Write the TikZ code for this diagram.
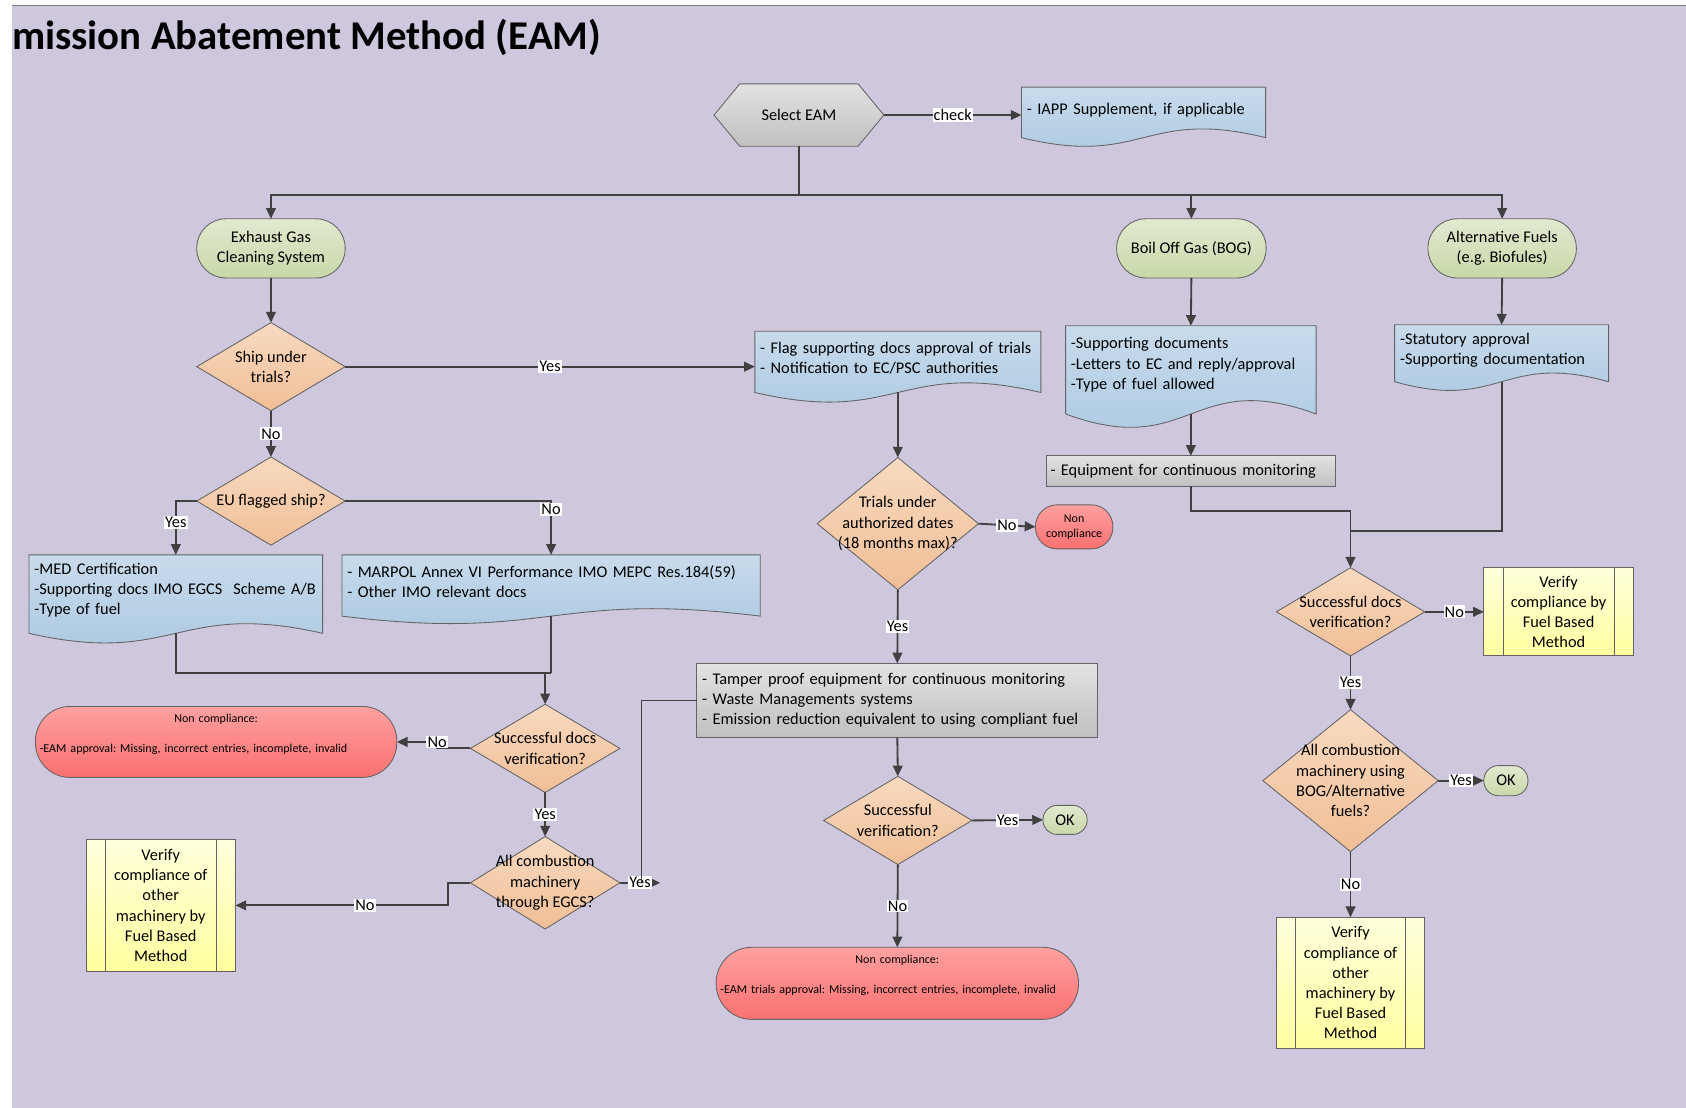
\documentclass[tikz,border=0pt]{standalone}
\usepackage{fontspec}
\setmainfont{Carlito}
\usetikzlibrary{arrows.meta,calc}
\definecolor{bgc}{RGB}{207,199,221}
\definecolor{lnc}{RGB}{64,64,64}
\definecolor{olc}{RGB}{100,100,100}
\definecolor{doct}{RGB}{200,219,236}
\definecolor{docb}{RGB}{168,199,224}
\definecolor{grt}{RGB}{226,226,226}
\definecolor{grb}{RGB}{192,192,192}
\definecolor{gnt}{RGB}{226,233,208}
\definecolor{gnb}{RGB}{200,216,168}
\definecolor{ort}{RGB}{248,218,192}
\definecolor{orb}{RGB}{240,190,150}
\definecolor{rdt}{RGB}{255,160,160}
\definecolor{rdb}{RGB}{250,112,112}
\definecolor{ylt}{RGB}{255,255,220}
\definecolor{ylb}{RGB}{255,255,160}
\pgfdeclarelayer{bg}
\pgfsetlayers{bg,main}
\frenchspacing
\newcommand\lowstr[1]{\rule[-#1]{0pt}{#1}}
\newcommand\mainsz{\fontsize{15.2}{18.8}\selectfont}
\newcommand\smallsz{\fontsize{11.2}{14}\selectfont}
\tikzset{
 base/.style={font=\mainsz, inner sep=0pt, outer sep=0pt},
 docnode/.style={base, rectangle, align=left, inner xsep=5pt},
 dia/.style={base, rectangle, align=center},
 term/.style={base, rectangle, draw=olc, line width=0.8pt, top color=gnt, bottom color=gnb, align=center},
 redterm/.style={term, top color=rdt, bottom color=rdb},
 graybox/.style={base, rectangle, draw=olc, line width=0.8pt, top color=grt, bottom color=grb, align=left, inner xsep=5pt},
 predef/.style={base, rectangle, draw=olc, line width=0.8pt, top color=ylt, bottom color=ylb, align=center},
 conn/.style={draw=lnc, line width=1.7pt, -{Triangle[length=10pt,width=9pt]}},
 plain/.style={draw=lnc, line width=1.7pt},
 lbl/.style={font=\mainsz, fill=white, inner sep=1pt, text=black},
 shapeol/.style={draw=olc, line width=0.8pt},
}
\begin{document}
\begin{tikzpicture}[x=1pt,y=-1pt]
\useasboundingbox (0,0) rectangle (1568,1030);
% ---------- nodes ----------
\node[anchor=base west, font=\fontsize{38}{44}\selectfont\bfseries, inner sep=0pt] (title) at (11,46) {mission Abatement Method (EAM)};
\node[dia, minimum width=158pt, minimum height=58pt] (sel) at (743,107) {Select EAM};
\node[docnode, minimum width=227pt, minimum height=47pt, text width=217pt] (iapp) at (1063.5,104.5) {- IAPP Supplement, if applicable\lowstr{7pt}};
\node[term, minimum width=138pt, minimum height=55pt, rounded corners=27pt] (egcs) at (252,231) {Exhaust Gas\\Cleaning System};
\node[term, minimum width=139pt, minimum height=55pt, rounded corners=27pt] (bogt) at (1108,231) {Boil Off Gas (BOG)};
\node[term, minimum width=138pt, minimum height=55pt, rounded corners=27pt] (aft) at (1397,231) {Alternative Fuels\\(e.g. Biofules)};
\node[dia, minimum width=138pt, minimum height=82pt] (ship) at (252,341) {Ship under\\trials?};
\node[docnode, minimum width=266pt, minimum height=57pt, text width=256pt] (flag) at (835,336.5) {- Flag supporting docs approval of trials\\- Notification to EC/PSC authorities\lowstr{8pt}};
\node[dia, minimum width=150pt, minimum height=123pt] (trial) at (835,487) {Trials under\\authorized dates\\(18 months max)?};
\node[redterm, font=\smallsz, minimum width=72pt, minimum height=41pt, rounded corners=20pt] (nc1) at (999,490) {Non\\compliance};
\node[graybox, minimum width=373pt, minimum height=69pt, text width=363pt] (tamper) at (834.5,651.5) {- Tamper proof equipment for continuous monitoring\\- Waste Managements systems\\- Emission reduction equivalent to using compliant fuel};
\node[dia, minimum width=138pt, minimum height=82pt] (sv) at (835,763) {Successful\\verification?};
\node[term, minimum width=41pt, minimum height=27pt, rounded corners=13pt] (ok1) at (990.5,762.5) {OK};
\node[redterm, font=\smallsz, minimum width=337pt, minimum height=67pt, rounded corners=33pt, text width=329pt, align=left, inner xsep=4pt] (nc2) at (834.5,914.5) {\null\hfill Non compliance:\hfill\null\\[14pt]-EAM trials approval: Missing, incorrect entries, incomplete, invalid\lowstr{17pt}};
\node[dia, minimum width=138pt, minimum height=82pt] (eu) at (252,466) {EU flagged ship?};
\node[docnode, minimum width=273pt, minimum height=73pt, text width=263pt] (med) at (163.5,552.5) {-MED Certification\\-Supporting docs IMO EGCS\ \ Scheme A/B\\-Type of fuel\lowstr{10pt}};
\node[docnode, minimum width=389pt, minimum height=57pt, text width=379pt] (marpol) at (512.5,544.5) {- MARPOL Annex VI Performance IMO MEPC Res.184(59)\\- Other IMO relevant docs\lowstr{7pt}};
\node[dia, minimum width=139pt, minimum height=82pt] (sdv1) at (507,696) {Successful docs\\verification?};
\node[redterm, font=\smallsz, minimum width=336pt, minimum height=66pt, rounded corners=32pt, text width=328pt, align=left, inner xsep=4pt] (nc3) at (201,690) {\null\hfill Non compliance:\hfill\null\\[14pt]-EAM approval: Missing, incorrect entries, incomplete, invalid\lowstr{16pt}};
\node[dia, minimum width=139pt, minimum height=86pt] (comb1) at (507,821) {All combustion\\machinery\\through EGCS?};
\node[predef, minimum width=139pt, minimum height=122pt] (fbm1) at (149.5,842) {Verify\\compliance of\\other\\machinery by\\Fuel Based\\Method};
\node[docnode, minimum width=233pt, minimum height=82pt, text width=223pt] (bogdoc) at (1107.5,344) {-Supporting documents\\-Letters to EC and reply/approval\\-Type of fuel allowed\lowstr{12pt}};
\node[graybox, minimum width=269pt, minimum height=28pt, text width=261pt, inner xsep=4pt] (equip) at (1107.5,438) {- Equipment for continuous monitoring};
\node[docnode, minimum width=199pt, minimum height=53pt, text width=189pt] (afdoc) at (1396.5,328.5) {-Statutory approval\\-Supporting documentation\lowstr{8pt}};
\node[dia, minimum width=138pt, minimum height=82pt] (sdv2) at (1256,569) {Successful docs\\verification?};
\node[predef, minimum width=139pt, minimum height=82pt] (fbm2) at (1449.5,569) {Verify\\compliance by\\Fuel Based\\Method};
\node[dia, minimum width=163pt, minimum height=132pt] (comb2) at (1256,726) {All combustion\\machinery using\\BOG/Alternative\\fuels?};
\node[term, minimum width=41pt, minimum height=28pt, rounded corners=13.5pt] (ok2) at (1400.5,726) {OK};
\node[predef, minimum width=138pt, minimum height=122pt] (fbm3) at (1256,914) {Verify\\compliance of\\other\\machinery by\\Fuel Based\\Method};
% ---------- background shapes ----------
\begin{pgfonlayer}{bg}
\fill[white] (0,0) rectangle (1568,1030);
\fill[bgc] (11,6) rectangle (1568,1030);
\draw[gray, line width=0.8pt] (11,5.5) -- (1568,5.5);
\path[shapeol, top color=grt, bottom color=grb] (sel.west) -- ($(sel.north west)+(24,0)$) -- ($(sel.north east)+(-24,0)$) -- (sel.east) -- ($(sel.south east)+(-24,0)$) -- ($(sel.south west)+(24,0)$) -- cycle;
\foreach \n in {ship,eu,trial,sv,sdv1,comb1,sdv2,comb2}
  \path[shapeol, top color=ort, bottom color=orb] (\n.north) -- (\n.east) -- (\n.south) -- (\n.west) -- cycle;
\foreach \n/\c in {iapp/28,flag/31,bogdoc/43,afdoc/28,med/31,marpol/24}
  \path[shapeol, top color=doct, bottom color=docb] (\n.north west) -- (\n.north east) -- (\n.south east) .. controls ($(\n.south)+(0,-\c)$) and ($(\n.south)+(0,\c)$) .. (\n.south west) -- cycle;
\end{pgfonlayer}
\foreach \n in {fbm1,fbm2,fbm3} {
  \draw[shapeol] ($(\n.north west)+(18,0)$) -- ($(\n.south west)+(18,0)$);
  \draw[shapeol] ($(\n.north east)+(-18,0)$) -- ($(\n.south east)+(-18,0)$);
}
% ---------- connectors ----------
\draw[conn] (sel.east) -- node[lbl]{check} (sel.east -| iapp.west);
\coordinate (bus) at (743,181);
\draw[plain] (sel.south) -- (bus);
\draw[conn] (bus) -| (egcs.north);
\draw[conn] (bus) -| (bogt.north);
\draw[conn] (bus) -| (aft.north);
\draw[conn] (egcs.south) -- (ship.north);
\draw[conn] (ship.east) -- node[lbl]{Yes} (ship.east -| flag.west);
\draw[conn] (ship.south) -- node[lbl]{No} (eu.north);
\draw[conn] (eu.west) -| node[lbl,pos=0.7]{Yes} (med.north);
\draw[conn] (eu.east) -| node[lbl,pos=0.58]{No} (marpol.north);
\draw[conn] (flag.south) -- (trial.north);
\draw[conn] (trial.east) -- node[lbl]{No} (nc1.west);
\draw[conn] (trial.south) -- node[lbl]{Yes} (tamper.north);
\draw[conn] (tamper.south) -- (sv.north);
\draw[conn] (sv.east) -- node[lbl]{Yes} (ok1.west);
\draw[conn] (sv.south) -- node[lbl]{No} (nc2.north);
\coordinate (m1) at (512.5,626);
\draw[plain] (med.south) |- (m1);
\draw[plain] (marpol.south) -- (m1);
\draw[conn] (sdv1.north |- m1) -- (sdv1.north);
\draw[conn] (sdv1.west) -- ++(-31,0) |- node[lbl]{No} (nc3.east);
\draw[conn] (sdv1.south) -- node[lbl]{Yes} (comb1.north);
\draw[conn] (comb1.west) -- ++(-21,0) |- node[lbl,pos=0.695]{No} (fbm1.east);
\coordinate (ye) at (614,821);
\draw[conn] (comb1.east) -- node[lbl]{Yes} (ye);
\coordinate (tj) at (597,651.5);
\coordinate (tj2) at (597,821);
\draw[draw=lnc, line width=0.9pt] (tamper.west) -- (tj) -- (tj2);
\draw[conn] (bogt.south) -- (bogdoc.north);
\draw[conn] (aft.south) -- (afdoc.north);
\draw[conn] (bogdoc.south) -- (equip.north);
\coordinate (j1) at (1256,475);
\coordinate (j2) at (1256,494);
\draw[plain] (equip.south) |- (j1);
\draw[plain] (afdoc.south) |- (j2);
\draw[conn] (j1) -- (sdv2.north);
\draw[conn] (sdv2.east) -- node[lbl]{No} (fbm2.west);
\draw[conn] (sdv2.south) -- node[lbl]{Yes} (comb2.north);
\draw[conn] (comb2.east) -- node[lbl]{Yes} (ok2.west);
\draw[conn] (comb2.south) -- node[lbl]{No} (fbm3.north);
\end{tikzpicture}
\end{document}
